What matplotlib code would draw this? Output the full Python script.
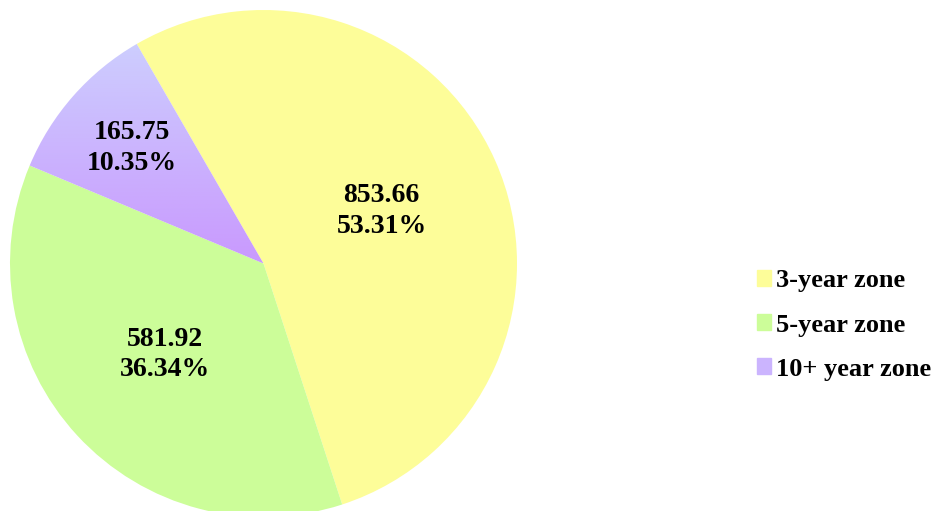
import numpy as np
import matplotlib
matplotlib.use("Agg")
import matplotlib.pyplot as plt
from matplotlib.colors import LinearSegmentedColormap

# data
zones = ["3-year zone", "5-year zone", "10+ year zone"]
values = [853.66, 581.92, 165.75]
pcts = ["53.31%", "36.34%", "10.35%"]
colors = ["#FDFD99", "#CCFD99", "#CBB4FE"]
label_r = [0.51, 0.53, 0.69]

plt.rcParams["font.family"] = ["Liberation Serif", "DejaVu Serif"]

fig = plt.figure(figsize=(9.5, 5.11), dpi=100)
ax = fig.add_axes([10 / 950, -6 / 511, 507 / 950, 507 / 511])

wedges, _ = ax.pie(values, colors=colors, startangle=120, counterclock=False,
                   radius=1, wedgeprops=dict(linewidth=0))
ax.set_aspect("equal")

# purple slice has a vertical gradient
purple = wedges[2]
purple.set_facecolor("none")
cmap = LinearSegmentedColormap.from_list("pg", ["#C999FE", "#CDCEFE"])
grad = np.linspace(0, 1, 256).reshape(-1, 1)
img = ax.imshow(grad, cmap=cmap, origin="lower", aspect="auto",
                extent=(-1, 0, 0.0, 0.87), zorder=purple.get_zorder())
img.set_clip_path(purple)
ax.set_xlim(-1, 1)
ax.set_ylim(-1, 1)

for w, v, p, r in zip(wedges, values, pcts, label_r):
    mid = np.deg2rad((w.theta1 + w.theta2) / 2)
    ax.text(r * np.cos(mid), r * np.sin(mid), f"{v:.2f}\n{p}", ha="center", va="center",
            fontsize=20, fontweight="bold", linespacing=1.3, zorder=5)

handles = [plt.Rectangle((0, 0), 1, 1, color=c) for c in ["#FDFD99", "#CCFD99", "#CBB4FE"]]
fig.legend(handles, zones, loc="center left", bbox_to_anchor=(757 / 950, 1 - 325 / 511),
           frameon=False, borderpad=0, borderaxespad=0, handlelength=0.53, handleheight=0.53,
           handletextpad=0.2, labelspacing=0.8, prop=dict(size=19, weight="bold"))

fig.savefig("out.png", dpi=100)
